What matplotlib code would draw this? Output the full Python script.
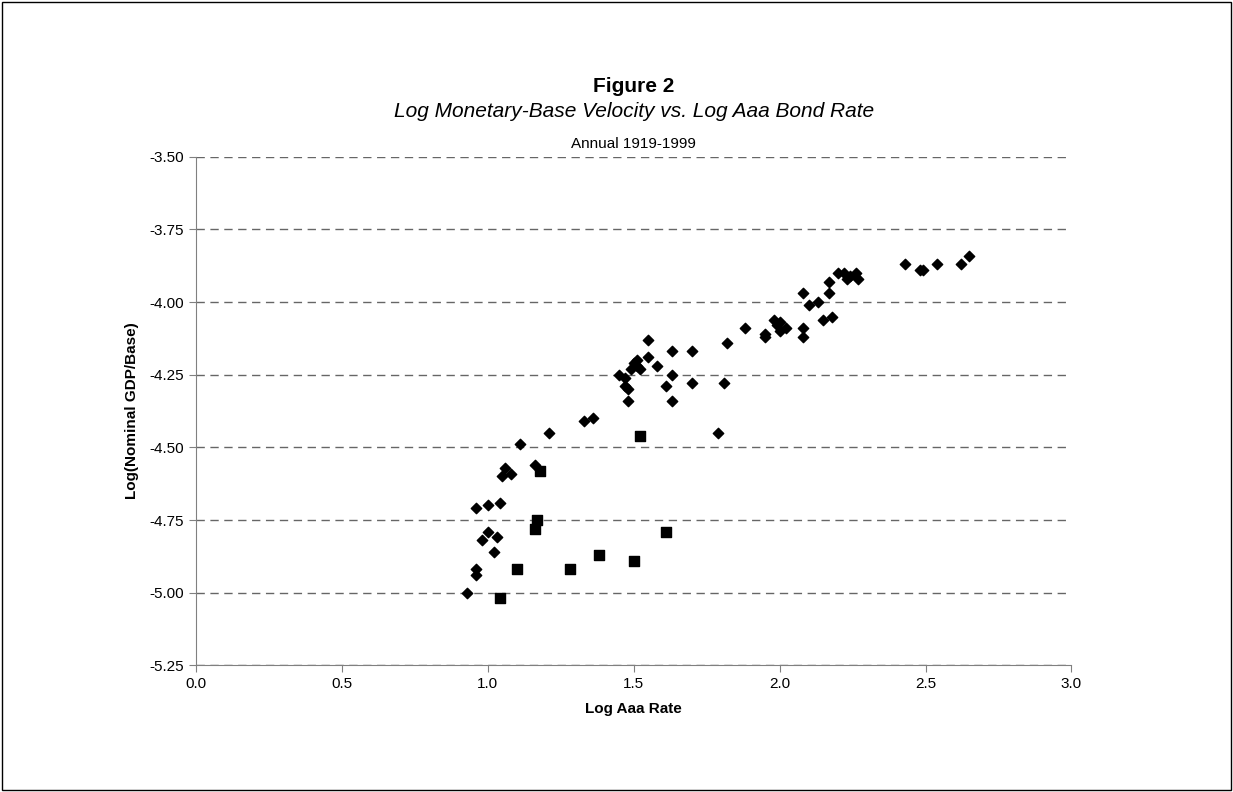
import matplotlib
matplotlib.use('Agg')
import matplotlib.pyplot as plt
import numpy as np

# Annual 1919-1999, diamonds = main sample, squares = highlighted years
dia_x = [0.93, 0.96, 0.96, 0.96, 0.98, 1.00, 1.00, 1.02, 1.03, 1.04, 1.05, 1.06, 1.08, 1.11,
         1.16, 1.21, 1.33, 1.36, 1.45, 1.47, 1.47, 1.48, 1.48, 1.49, 1.50, 1.51, 1.51, 1.52,
         1.55, 1.55, 1.58, 1.61, 1.63, 1.63, 1.63, 1.70, 1.70, 1.79, 1.81, 1.82, 1.88, 1.95,
         1.95, 1.98, 1.99, 2.00, 2.00, 2.02, 2.08, 2.08, 2.08, 2.10, 2.13, 2.15, 2.17, 2.17,
         2.18, 2.20, 2.22, 2.23, 2.24, 2.26, 2.27, 2.43, 2.48, 2.49, 2.54, 2.62, 2.65]
dia_y = [-5.00, -4.92, -4.94, -4.71, -4.82, -4.70, -4.79, -4.86, -4.81, -4.69, -4.60, -4.57, -4.59, -4.49,
         -4.56, -4.45, -4.41, -4.40, -4.25, -4.26, -4.29, -4.30, -4.34, -4.23, -4.21, -4.20, -4.22, -4.23,
         -4.13, -4.19, -4.22, -4.29, -4.17, -4.25, -4.34, -4.17, -4.28, -4.45, -4.28, -4.14, -4.09, -4.11,
         -4.12, -4.06, -4.08, -4.10, -4.07, -4.09, -4.09, -4.12, -3.97, -4.01, -4.00, -4.06, -3.93, -3.97,
         -4.05, -3.90, -3.90, -3.92, -3.91, -3.90, -3.92, -3.87, -3.89, -3.89, -3.87, -3.87, -3.84]
sq_x = [1.04, 1.10, 1.16, 1.17, 1.18, 1.28, 1.38, 1.50, 1.52, 1.61]
sq_y = [-5.02, -4.92, -4.78, -4.75, -4.58, -4.92, -4.87, -4.89, -4.46, -4.79]

plt.rcParams['font.family'] = ['Liberation Sans', 'DejaVu Sans']

fig = plt.figure(figsize=(12.33, 7.92), dpi=100)
fig.patches.append(plt.Rectangle((0.002, 0.002), 0.996, 0.996, transform=fig.transFigure,
                                 fill=False, edgecolor='black', linewidth=1))
ax = fig.add_axes([0.159, 0.160, 0.710, 0.642])

ax.scatter(dia_x, dia_y, marker='D', s=28, color='black', zorder=3)
ax.scatter(sq_x, sq_y, marker='s', s=55, color='black', zorder=3)

ax.set_xlim(0, 3.0)
ax.set_ylim(-5.25, -3.5)
ax.set_xticks(np.arange(0, 3.01, 0.5))
ax.set_yticks(np.arange(-5.25, -3.49, 0.25))
ax.xaxis.set_major_formatter(matplotlib.ticker.FormatStrFormatter('%.1f'))
ax.yaxis.set_major_formatter(matplotlib.ticker.FormatStrFormatter('%.2f'))
ax.yaxis.grid(True, linestyle=(0, (6, 4)), color='#666666', linewidth=1)
ax.set_axisbelow(True)
ax.spines['top'].set_visible(False)
ax.spines['right'].set_visible(False)
ax.spines['left'].set_color('#808080')
ax.spines['bottom'].set_color('#808080')
ax.tick_params(labelsize=11, direction='out', color='#808080', length=5)

ax.set_xlabel('Log Aaa Rate', fontsize=11, fontweight='bold', labelpad=8)
ax.set_ylabel('Log(Nominal GDP/Base)', fontsize=11, fontweight='bold', labelpad=8)

fig.text(0.514, 0.884, 'Figure 2', ha='center', fontsize=15, fontweight='bold')
fig.text(0.514, 0.852, 'Log Monetary-Base Velocity vs. Log Aaa Bond Rate', ha='center',
         fontsize=15, style='italic')
fig.text(0.514, 0.813, 'Annual 1919-1999', ha='center', fontsize=11)

fig.savefig('out.png', dpi=100)
